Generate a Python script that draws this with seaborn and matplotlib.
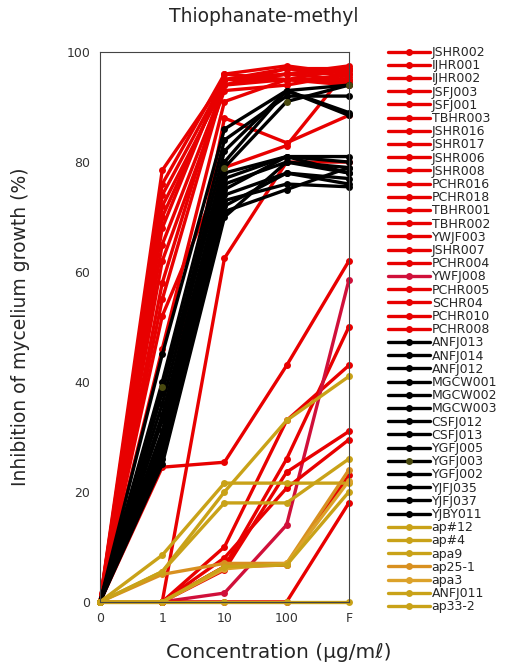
import numpy as np
import pandas as pd
import matplotlib
matplotlib.use("Agg")
import matplotlib.pyplot as plt
import seaborn as sns
from matplotlib.lines import Line2D

concentrations = ["0", "1", "10", "100", "F"]

red_strains = ["JSHR002", "IJHR001", "IJHR002", "JSFJ003", "JSFJ001", "TBHR003",
               "JSHR016", "JSHR017", "JSHR006", "JSHR008", "PCHR016", "PCHR018",
               "TBHR001", "TBHR002", "YWJF003", "JSHR007", "PCHR004", "YWFJ008",
               "PCHR005", "SCHR04", "PCHR010", "PCHR008"]
red_values = [
    [0, 78.5, 95.0, 97.0, 97.0],
    [0, 76.0, 96.0, 97.5, 96.0],
    [0, 74.0, 95.0, 96.0, 97.5],
    [0, 72.0, 94.0, 95.0, 95.0],
    [0, 70.0, 95.0, 96.0, 96.5],
    [0, 68.0, 96.0, 95.0, 94.5],
    [0, 65.0, 94.0, 97.0, 95.5],
    [0, 62.0, 93.0, 94.0, 96.0],
    [0, 58.0, 95.0, 95.0, 97.0],
    [0, 55.0, 94.0, 96.0, 95.0],
    [0, 52.0, 79.0, 83.0, 97.0],
    [0, 30.0, 88.0, 83.5, 88.5],
    [0, 0.0, 62.5, 80.0, 80.0],
    [0, 46.0, 91.0, 95.0, 94.0],
    [0, 24.5, 25.4, 43.0, 62.0],
    [0, 0.0, 10.0, 33.0, 43.0],
    [0, 0.0, 6.4, 26.0, 50.0],
    [0, 0.0, 1.6, 14.0, 58.5],
    [0, 0.0, 5.8, 23.6, 31.0],
    [0, 0.0, 8.0, 20.7, 29.5],
    [0, 0.0, 6.4, 6.7, 23.0],
    [0, 0.0, 0.0, 0.0, 18.0],
]

black_strains = ["ANFJ013", "ANFJ014", "ANFJ012", "MGCW001", "MGCW002", "MGCW003",
                 "CSFJ012", "CSFJ013", "YGFJ005", "YGFJ003", "YGFJ002", "YJFJ035",
                 "YJFJ037", "YJBY011"]
black_values = [
    [0, 45.0, 86.0, 93.0, 94.0],
    [0, 40.0, 84.0, 92.0, 92.0],
    [0, 38.0, 82.0, 93.0, 89.0],
    [0, 36.0, 80.0, 93.0, 88.5],
    [0, 34.0, 78.0, 81.0, 81.0],
    [0, 33.0, 77.0, 81.0, 80.0],
    [0, 31.0, 76.0, 80.0, 79.0],
    [0, 30.0, 75.0, 81.0, 78.0],
    [0, 29.0, 74.0, 78.0, 77.0],
    [0, 39.0, 79.0, 91.0, 94.0],
    [0, 28.0, 73.0, 76.0, 75.5],
    [0, 27.0, 72.0, 78.0, 76.0],
    [0, 26.0, 71.0, 75.0, 79.0],
    [0, 25.0, 70.0, 80.0, 78.0],
]

gold_strains = ["ap#12", "ap#4", "apa9", "ap25-1", "apa3", "ANFJ011", "ap33-2"]
gold_values = [
    [0, 8.5, 21.6, 21.6, 21.6],
    [0, 5.5, 18.0, 18.0, 26.0],
    [0, 0.0, 0.0, 0.0, 0.0],
    [0, 5.0, 7.0, 7.0, 24.0],
    [0, 0.0, 6.0, 7.0, 22.0],
    [0, 5.5, 20.0, 33.0, 41.0],
    [0, 0.0, 6.4, 6.7, 20.0],
]

# colours per strain group
strains = red_strains + black_strains + gold_strains
values = red_values + black_values + gold_values
palette = {}
for s in red_strains:
    palette[s] = "#e80000"
palette["YWFJ008"] = "#d0103a"
for s in black_strains:
    palette[s] = "#000000"
for s in gold_strains:
    palette[s] = "#c9a218"
palette["ap25-1"] = "#d89020"
palette["apa3"] = "#dca22a"
marker_face = dict(palette)
marker_face["YGFJ003"] = "#4a4a10"

rows = []
for s, vals in zip(strains, values):
    for i, v in enumerate(vals):
        rows.append({"strain": s, "x": i, "inhibition": v})
df = pd.DataFrame(rows)

sns.set_style("white")
plt.rcParams["font.family"] = ["DejaVu Sans"]

fig = plt.figure(figsize=(5.13, 6.68), dpi=100)
ax = fig.add_axes([0.195, 0.099, 0.485, 0.823])

sns.lineplot(data=df, x="x", y="inhibition", hue="strain", hue_order=strains,
             palette=palette, estimator=None, sort=False, marker="o",
             markersize=5, linewidth=2.4, markeredgewidth=0, legend=False,
             ax=ax, clip_on=False)

for line, s in zip(ax.get_lines(), strains):
    line.set_markerfacecolor(marker_face[s])

ax.set_xlim(0, 4)
ax.set_ylim(0, 100)
ax.set_xticks(range(5))
ax.set_xticklabels(concentrations)
ax.set_yticks([0, 20, 40, 60, 80, 100])
ax.tick_params(axis="both", labelsize=9, colors="#333333", length=0, pad=7)
for sp in ax.spines.values():
    sp.set_color("#444444")
    sp.set_linewidth(0.8)
    sp.set_linestyle((0, (1, 1)))

ax.set_xlabel("Concentration (\u03bcg/m\u2113)", fontsize=14.5)
ax.xaxis.set_label_coords(0.72, -0.074)
ax.set_ylabel("Inhibition of mycelium growth (%)", fontsize=13.5)
ax.yaxis.set_label_coords(-0.28, 0.5)
ax.set_title("Thiophanate-methyl", fontsize=13.5, x=0.66, pad=22)

handles = [Line2D([0], [0], color=palette[s], marker="o", markersize=5,
                  markerfacecolor=marker_face[s], markeredgewidth=0, linewidth=2.4)
           for s in strains]
leg = ax.legend(handles, strains, loc="upper left", bbox_to_anchor=(1.157, 1.011),
                frameon=False, fontsize=9, labelspacing=0.016, handlelength=3.4,
                handletextpad=0.1, borderaxespad=0, borderpad=0)

fig.savefig("out.png", dpi=100)
